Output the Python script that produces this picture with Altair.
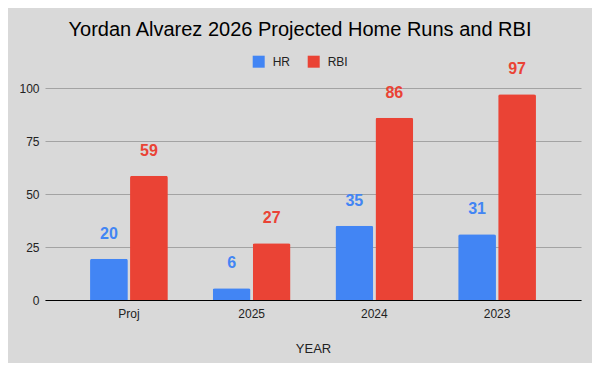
import altair as alt
import pandas as pd

years = ["Proj", "2025", "2024", "2023"]
stats = ["HR", "RBI"]
hr = [19.5, 5.5, 35, 31]
rbi = [58.6, 26.8, 86, 97]
colors = ["#4285f4", "#ea4335"]
y_ticks = [0, 25, 50, 75, 100]

rows = []
for yr, h, r in zip(years, hr, rbi):
    rows.append({"YEAR": yr, "Stat": "HR", "Value": h})
    rows.append({"YEAR": yr, "Stat": "RBI", "Value": r})
df = pd.DataFrame(rows)

FONT = "Liberation Sans"

x = alt.X(
    "YEAR:N",
    sort=years,
    scale=alt.Scale(paddingInner=0.366, paddingOuter=0.367),
    axis=alt.Axis(
        labelAngle=0, ticks=False, domainColor="#000000", domainWidth=1,
        labelFontSize=12, labelColor="#222222", labelPadding=8, labelFont=FONT,
        titleFontSize=13, titleFontWeight="normal", titleColor="#222222",
        titleFont=FONT, titlePadding=23, grid=False,
    ),
    title="YEAR",
)
xo = alt.XOffset("Stat:N", sort=stats, scale=alt.Scale(paddingInner=0.055, paddingOuter=0))
y = alt.Y(
    "Value:Q",
    scale=alt.Scale(domain=[0, 100], nice=False),
    axis=alt.Axis(
        values=y_ticks, domain=False, ticks=False, grid=True,
        gridColor="#a3a3a3", gridWidth=1, labelFontSize=12,
        labelColor="#222222", labelPadding=6, labelFont=FONT,
    ),
    title=None,
)
color_scale = alt.Scale(domain=stats, range=colors)

bars = alt.Chart(df).mark_bar(
    cornerRadiusTopLeft=2, cornerRadiusTopRight=2
).encode(
    x=x, xOffset=xo, y=y,
    color=alt.Color(
        "Stat:N", scale=color_scale,
        legend=alt.Legend(
            orient="none", legendX=207.7, legendY=-32.3, direction="horizontal",
            title=None, symbolType="square", symbolSize=144, symbolStrokeWidth=0,
            labelFontSize=12, labelColor="#222222", labelFont=FONT,
            labelOffset=8, columnPadding=17, padding=0,
        ),
    ),
)

labels = alt.Chart(df).mark_text(
    fontSize=16, fontWeight="bold", dy=-20, baseline="alphabetic", font=FONT
).encode(
    x=x, xOffset=xo, y=y,
    text=alt.Text("Value:Q", format=".0f"),
    color=alt.Color("Stat:N", scale=color_scale, legend=None),
)

chart = alt.layer(bars, labels).properties(
    width=536,
    height=212,
    autosize=alt.AutoSizeParams(type="none"),
    padding={"left": 37, "top": 80, "right": 11, "bottom": 63},
    background="#d9d9d9",
    title=alt.TitleParams(
        "Yordan Alvarez 2026 Projected Home Runs and RBI",
        fontSize=20, font=FONT, fontWeight="normal", color="#000000",
        anchor="middle", dx=-13, offset=0, baseline="alphabetic",
    ),
).configure_view(stroke=None)

chart.save("out.html", embed_options={"renderer": "svg", "actions": False})
